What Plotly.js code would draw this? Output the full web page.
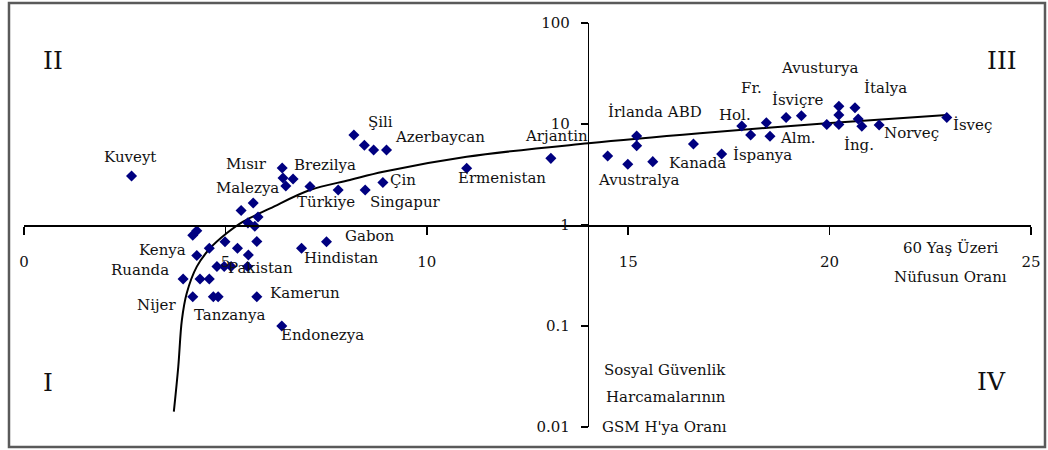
<!DOCTYPE html>
<html>
<head>
<meta charset="utf-8">
<script src="https://cdn.plot.ly/plotly-3.0.1.min.js"></script>
<style>
  html, body { margin: 0; padding: 0; background: #fff; }
  #chart { width: 1048px; height: 450px; }
</style>
</head>
<body>
<div id="chart"></div>
<script>
// Share of population aged 60+ (x) vs social security spending / GDP (y, log)
const pointX = [2.67, 6.41, 6.43, 6.68, 6.50, 7.10, 7.80, 8.47, 8.91,
  5.69, 5.39, 5.81, 5.56, 5.73, 4.29, 4.19, 5.78, 4.99, 5.30, 4.60, 4.29, 5.57,
  6.89, 7.51, 4.79, 4.97, 5.14, 5.55, 3.95, 4.37, 4.60, 4.19, 4.70, 4.82, 5.78, 6.40,
  8.19, 8.45, 8.68, 9.00, 10.99, 13.08, 14.49, 14.99, 15.21, 15.21, 15.61, 16.62,
  17.32, 17.82, 18.04, 18.43, 18.52, 18.92, 19.30, 19.93, 20.23, 20.23, 20.23,
  20.63, 20.71, 20.80, 21.23, 22.91];
const pointY = [3.06, 3.67, 2.92, 2.85, 2.43, 2.41, 2.22, 2.22, 2.63,
  1.65, 1.39, 1.20, 1.05, 0.97, 0.878, 0.79, 0.686, 0.683, 0.588, 0.588, 0.499, 0.505,
  0.588, 0.684, 0.388, 0.388, 0.388, 0.388, 0.292, 0.292, 0.292, 0.195, 0.195, 0.195, 0.195, 0.10,
  7.78, 6.16, 5.53, 5.53, 3.64, 4.57, 4.82, 3.99, 7.6, 6.1, 4.24, 6.34,
  5.05, 9.56, 7.78, 10.3, 7.55, 11.6, 12.05, 9.9, 14.95, 12.3, 9.9,
  14.5, 11.2, 9.5, 9.78, 11.6];

// Trend curve
const curveX = [3.72, 3.83, 3.92, 4.04, 4.29, 4.62, 5.03, 5.44, 6.11, 7.10, 8.09, 8.92, 10.99, 14.01, 16.78, 19.93, 22.91];
const curveY = [0.0142, 0.0395, 0.115, 0.211, 0.387, 0.588, 0.827, 1.08, 1.46, 2.22, 2.79, 3.37, 4.74, 6.44, 8.1, 10.16, 12.3];

const xTicks = [0, 5, 10, 15, 20, 25];
const xTickText = ['0', '5', '10', '15', '20', '25'];
const yTicks = [0.01, 0.1, 1, 10, 100];
const yTickText = ['0.01', '0.1', '1', '10', '100'];

const countryNames = ['Kuveyt', 'Mısır', 'Brezilya', 'Malezya', 'Türkiye', 'Şili', 'Azerbaycan', 'Çin',
  'Singapur', 'Ermenistan', 'Arjantin', 'İrlanda ABD', 'Avustralya', 'Kanada', 'İspanya', 'Hol.', 'Fr.',
  'İsviçre', 'Avusturya', 'İtalya', 'Alm.', 'İng.', 'Norveç', 'İsveç', 'Kenya', 'Ruanda', 'Nijer',
  'Tanzanya', 'Pakistan', 'Kamerun', 'Endonezya', 'Hindistan', 'Gabon'];
const quadrantNames = ['II', 'III', 'I', 'IV'];
const xTitleLines = ['60 Yaş Üzeri', 'Nüfusun Oranı'];
const yTitleLines = ['Sosyal Güvenlik', 'Harcamalarının', "GSM H'ya Oranı"];

// label placements (layout only)
const labelPos = [
  [2.63, 0.673], [5.53, 0.604], [7.47, 0.594], [5.56, 0.366], [7.50, 0.231], [8.86, 1.020],
  [10.33, 0.874], [9.41, 0.446], [9.48, 0.231], [11.87, 0.462], [13.22, 0.88], [15.67, 1.119],
  [15.26, 0.446], [16.71, 0.614], [18.33, 0.693], [17.65, 1.089], [18.07, 1.353], [19.20, 1.238],
  [19.76, 1.551], [21.40, 1.353], [19.22, 0.858], [20.72, 0.792], [22.04, 0.908], [23.55, 0.990],
  [3.43, -0.248], [2.88, -0.446], [3.28, -0.792], [5.09, -0.891], [5.88, -0.429], [6.98, -0.676],
  [7.40, -1.089], [7.87, -0.327], [8.59, -0.104]];
const quadPos = [[0.73, 1.624], [24.29, 1.624], [0.60, -1.559], [24.02, -1.551]];
const xTitlePos = [[23.01, -0.231], [23.01, -0.512]];
const yTitlePos = [[15.91, -1.436], [15.94, -1.700], [15.91, -1.997]];

const FONT = 'DejaVu Serif, Liberation Serif, serif';
const textColor = '#111';

const annotations = [];
countryNames.forEach((t, i) => annotations.push({
  x: labelPos[i][0], y: labelPos[i][1], xref: 'x', yref: 'y', text: t, showarrow: false,
  font: {family: FONT, size: 15, color: textColor}
}));
quadrantNames.forEach((t, i) => annotations.push({
  x: quadPos[i][0], y: quadPos[i][1], xref: 'x', yref: 'y', text: t, showarrow: false,
  font: {family: FONT, size: 25, color: textColor}
}));
xTitleLines.forEach((t, i) => annotations.push({
  x: xTitlePos[i][0], y: xTitlePos[i][1], xref: 'x', yref: 'y', text: t, showarrow: false,
  font: {family: FONT, size: 15, color: textColor}
}));
yTitleLines.forEach((t, i) => annotations.push({
  x: yTitlePos[i][0], y: yTitlePos[i][1], xref: 'x', yref: 'y', text: t, showarrow: false,
  font: {family: FONT, size: 15, color: textColor}
}));

const traces = [
  {
    x: curveX, y: curveY, type: 'scatter', mode: 'lines',
    line: {color: '#000', width: 2, shape: 'spline', smoothing: 1},
    hoverinfo: 'skip'
  },
  {
    x: pointX, y: pointY, type: 'scatter', mode: 'markers',
    marker: {symbol: 'diamond', size: 8.5, color: '#000080', line: {width: 0}}
  }
];

const layout = {
  width: 1048, height: 450,
  margin: {l: 24, r: 17, t: 23, b: 23},
  paper_bgcolor: '#fff', plot_bgcolor: '#fff',
  showlegend: false,
  xaxis: {
    range: [0, 25], anchor: 'free', position: 0.5,
    showgrid: false, zeroline: false, showline: true, linecolor: '#000', linewidth: 1.5,
    tickmode: 'array', tickvals: xTicks, ticktext: xTickText,
    ticks: 'outside', ticklen: 8, tickwidth: 1.5, tickcolor: '#000',
    ticklabelstandoff: 14,
    tickfont: {family: FONT, size: 15, color: textColor}
  },
  yaxis: {
    type: 'log', range: [-2, 2], anchor: 'free', position: 0.56,
    showgrid: false, zeroline: false, showline: true, linecolor: '#000', linewidth: 1.5,
    tickmode: 'array', tickvals: yTicks, ticktext: yTickText,
    ticks: 'outside', ticklen: 7, tickwidth: 1.5, tickcolor: '#000',
    ticklabelstandoff: 8,
    tickfont: {family: FONT, size: 15, color: textColor}
  },
  shapes: [{
    type: 'rect', xref: 'paper', yref: 'paper',
    x0: -0.0149, x1: 1.0139, y0: -0.0495, y1: 1.0495,
    line: {color: '#5a5a5a', width: 2.5}, fillcolor: 'rgba(0,0,0,0)'
  }],
  annotations: annotations
};

Plotly.newPlot('chart', traces, layout, {displayModeBar: false, staticPlot: true});
</script>
</body>
</html>
